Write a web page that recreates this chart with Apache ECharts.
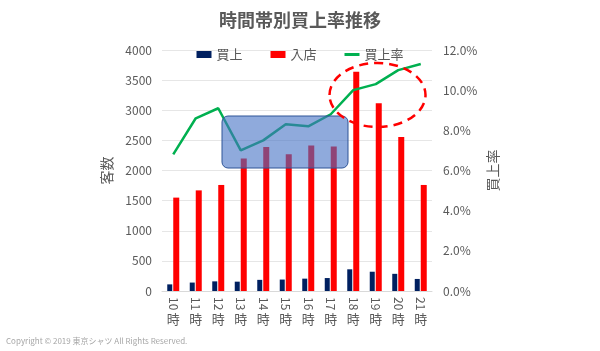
<!DOCTYPE html>
<html>
<head>
<meta charset="utf-8">
<script src="https://cdn.jsdelivr.net/npm/echarts@6/dist/echarts.min.js"></script>
<style>
  html, body { margin: 0; padding: 0; background: #fff; }
  #chart { width: 600px; height: 351px; }
</style>
</head>
<body>
<div id="chart"></div>
<script>
// 時間帯（x軸）
var hours = ["10", "11", "12", "13", "14", "15", "16", "17", "18", "19", "20", "21"];
// 買上（客数）
var kaiage = [110, 140, 160, 155, 185, 190, 205, 215, 360, 320, 285, 200];
// 入店（客数）
var nyuten = [1550, 1670, 1760, 2200, 2390, 2270, 2415, 2400, 3640, 3115, 2555, 1760];
// 買上率
var rate = [0.068, 0.086, 0.091, 0.070, 0.075, 0.083, 0.082, 0.088, 0.100, 0.103, 0.110, 0.113];

var font = "'Noto Sans CJK JP', 'Noto Sans', sans-serif";
var grey = "#595959";

var chart = echarts.init(document.getElementById("chart"));

var option = {
  backgroundColor: "#fff",
  textStyle: { fontFamily: font },
  title: [
    {
      text: "時間帯別買上率推移",
      left: "center",
      top: 6,
      textStyle: { fontSize: 18, fontWeight: "bold", color: grey, fontFamily: font }
    },
    {
      text: "Copyright © 2019 東京シャツ All Rights Reserved.",
      left: 1,
      bottom: 1,
      textStyle: { fontSize: 8, fontWeight: "normal", color: "#a6a6a6", fontFamily: font }
    }
  ],
  legend: {
    data: [
      { name: "買上", icon: "rect" },
      { name: "入店", icon: "rect" },
      { name: "買上率", icon: "path://M0,0 H15 V3 H0 Z" }
    ],
    left: "center",
    top: 43,
    itemWidth: 15,
    itemHeight: 7,
    itemGap: 28,
    textStyle: { fontSize: 13, color: grey, fontFamily: font }
  },
  grid: { left: 162, right: 168, top: 50, bottom: 60 },
  xAxis: [
    {
      type: "category",
      data: hours,
      axisLine: { lineStyle: { color: "#d9d9d9" } },
      axisTick: { show: false },
      axisLabel: { rotate: -90, margin: 6, fontSize: 12, color: grey, fontFamily: font }
    },
    {
      type: "category",
      position: "bottom",
      data: hours,
      axisLine: { show: false },
      axisTick: { show: false },
      splitLine: { show: false },
      axisLabel: {
        margin: 22,
        fontSize: 13,
        color: grey,
        fontFamily: font,
        formatter: function () { return "時"; }
      }
    }
  ],
  yAxis: [
    {
      type: "value",
      min: 0,
      max: 4000,
      interval: 500,
      name: "客数",
      nameLocation: "middle",
      nameRotate: 90,
      nameGap: 48,
      nameTextStyle: { fontSize: 14, color: grey, fontFamily: font },
      axisLine: { show: false },
      axisTick: { show: false },
      axisLabel: {
        fontSize: 12,
        color: grey,
        margin: 10,
        fontFamily: font,
        formatter: function (v) { return String(v); }
      },
      splitLine: { lineStyle: { color: "#e6e6e6" } }
    },
    {
      type: "value",
      min: 0,
      max: 0.12,
      interval: 0.02,
      name: "買上率",
      nameLocation: "middle",
      nameRotate: 90,
      nameGap: 54,
      nameTextStyle: { fontSize: 14, color: grey, fontFamily: font },
      axisLine: { show: false },
      axisTick: { show: false },
      axisLabel: {
        fontSize: 12,
        color: grey,
        margin: 11,
        fontFamily: font,
        formatter: function (v) { return (v * 100).toFixed(1) + "%"; }
      },
      splitLine: { show: false }
    }
  ],
  series: [
    {
      name: "買上",
      type: "bar",
      data: kaiage,
      barWidth: 5,
      barGap: "20%",
      itemStyle: { color: "#002060" }
    },
    {
      name: "入店",
      type: "bar",
      data: nyuten,
      barWidth: 6,
      itemStyle: { color: "#ff0000" }
    },
    {
      name: "買上率",
      type: "line",
      yAxisIndex: 1,
      data: rate,
      symbol: "none",
      lineStyle: { color: "#00b050", width: 2.5 },
      itemStyle: { color: "#00b050" }
    }
  ],
  // 注目箇所の囲み
  graphic: [
    {
      type: "rect",
      shape: { x: 222, y: 116, width: 126, height: 52, r: 6 },
      style: { fill: "rgba(68,114,196,0.6)", stroke: "#2f5597", lineWidth: 1 },
      z: 100
    },
    {
      type: "ellipse",
      shape: { cx: 377.5, cy: 95, rx: 48, ry: 32 },
      style: { fill: "none", stroke: "#ff0000", lineWidth: 2.5, lineDash: [9, 6] },
      z: 100
    }
  ]
};

chart.setOption(option);
</script>
</body>
</html>
